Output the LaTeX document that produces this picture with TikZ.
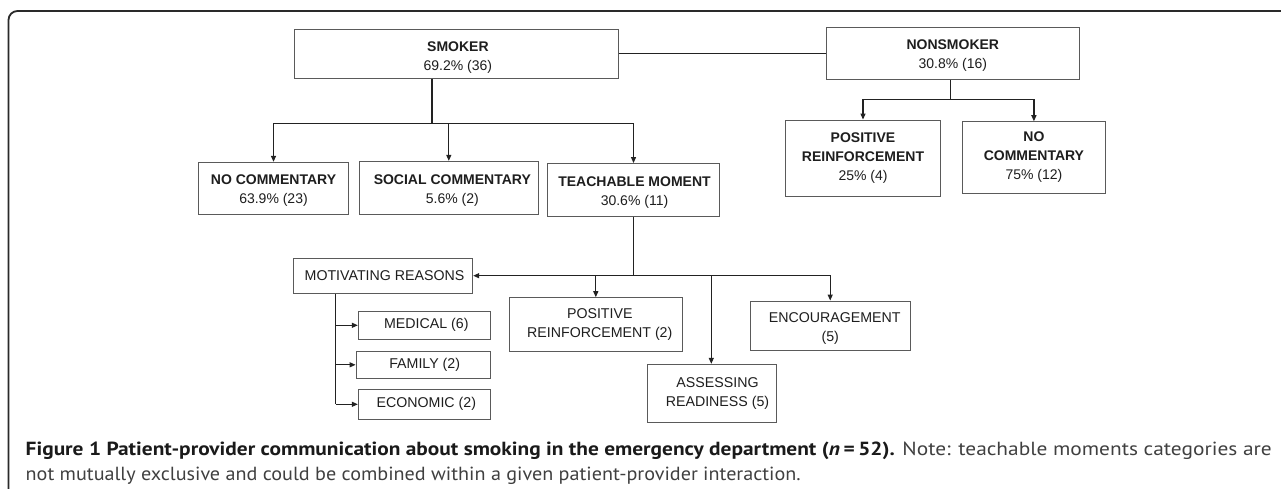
\documentclass[tikz,border=0pt]{standalone}
\usepackage{fontspec}
\usepackage{graphicx}
\setmainfont{Liberation Sans}
\newfontfamily\capfont{PT Sans}
\usetikzlibrary{arrows.meta}
\definecolor{boxgray}{HTML}{5A5A5A}
\definecolor{linec}{HTML}{222222}
\definecolor{txt}{HTML}{1E1E1E}
\definecolor{capbold}{HTML}{1A1A1A}
\definecolor{capreg}{HTML}{404040}
\definecolor{framec}{HTML}{2A2A2A}
\newcommand\tstrut[1]{\rule{0pt}{#1}}
\tikzset{
  topbox/.style={draw=boxgray, line width=0.9pt, inner sep=0pt, align=center, text=txt,
    font=\fontsize{14}{19}\selectfont},
  lowbox/.style={draw=boxgray, line width=0.9pt, inner sep=0pt, align=center, text=txt,
    font=\fontsize{14.2}{19.3}\selectfont},
  conn/.style={draw=linec, line width=1.2pt},
  arr/.style={conn, -{Triangle[length=6pt,width=5pt]}},
}
\begin{document}
\begin{tikzpicture}[x=1pt,y=-1pt]
\useasboundingbox (0,0) rectangle (1281,489);
\fill[white] (0,0) rectangle (1281,489);
% frame
\draw[line width=1.8pt, draw=framec, rounded corners=9pt] (1290,11) -- (8.5,11) -- (8.5,500);

% top level
\node[topbox, minimum width=323.3pt, minimum height=49pt] (smoker) at (456.4,53.8)
  {\tstrut{18pt}\hspace*{3pt}\textbf{SMOKER}\\\hspace*{3pt}69.2\% (36)};
\node[topbox, minimum width=253.5pt, minimum height=52pt] (nonsmoker) at (952.8,53.3)
  {\tstrut{14pt}\textbf{NONSMOKER}\\30.8\% (16)};

% smoker children
\node[topbox, minimum width=150.2pt, minimum height=52pt] (nocom) at (273.5,188.3)
  {\tstrut{15pt}\textbf{NO COMMENTARY}\\63.9\% (23)};
\node[topbox, minimum width=179.2pt, minimum height=53pt] (social) at (448.8,187.8)
  {\tstrut{15pt}\hspace*{7pt}\textbf{SOCIAL COMMENTARY}\\\hspace*{7pt}5.6\% (2)};
\node[topbox, minimum width=172.3pt, minimum height=53pt] (teach) at (633.5,190)
  {\tstrut{15pt}\hspace*{2pt}\textbf{TEACHABLE MOMENT}\\\hspace*{2pt}30.6\% (11)};

% nonsmoker children
\node[topbox, minimum width=155pt, minimum height=76pt] (posr) at (863,158)
  {\textbf{POSITIVE}\\\textbf{REINFORCEMENT}\\25\% (4)};
\node[topbox, minimum width=142.7pt, minimum height=71.6pt] (nocomb) at (1033.9,157.5)
  {\textbf{NO}\\\textbf{COMMENTARY}\\75\% (12)};

% teachable moment children
\node[lowbox, minimum width=179.4pt, minimum height=35.3pt] (motiv) at (383,275.7)
  {\hspace*{3pt}MOTIVATING REASONS};
\node[lowbox, minimum width=173pt, minimum height=53.3pt] (posrb) at (595.8,324.3)
  {\hspace*{8pt}POSITIVE\\\hspace*{8pt}REINFORCEMENT (2)};
\node[lowbox, minimum width=129.4pt, minimum height=58.4pt] (assess) at (712,393.5)
  {\hspace*{11pt}ASSESSING\\\hspace*{11pt}READINESS (5)};
\node[lowbox, minimum width=160.3pt, minimum height=49pt] (encour) at (830.2,325.5)
  {\tstrut{16pt}\hspace*{9pt}ENCOURAGEMENT\\(5)};

% motivating reasons children
\node[lowbox, minimum width=132pt, minimum height=28pt] (medical) at (424.3,325.3)
  {\hspace*{4pt}MEDICAL (6)};
\node[lowbox, minimum width=134.3pt, minimum height=27pt] (family) at (423.2,364.8)
  {\hspace*{3pt}FAMILY (2)};
\node[lowbox, minimum width=132pt, minimum height=30pt] (economic) at (424.3,404.3)
  {\hspace*{4pt}ECONOMIC (2)};

% connectors: smoker
\draw[conn] (smoker.east) -- (smoker.east -| nonsmoker.west);
\coordinate (sj) at (431.9,123.5);
\draw[conn] (sj |- smoker.south) -- (sj);
\draw[arr] (sj) -| (nocom.north);
\draw[arr] (sj) -| (social.north);
\draw[arr] (sj) -| (teach.north);

% connectors: nonsmoker
\coordinate (nj) at (950.7,99.3);
\draw[conn] (nj |- nonsmoker.south) -- (nj);
\draw[arr] (nj) -| (posr.north);
\draw[arr] (nj) -| (nocomb.north);

% connectors: teachable moment
\coordinate (tj) at (633.7,275.7);
\coordinate (ta) at (711.3,275.7);
\draw[conn] (tj |- teach.south) -- (tj);
\draw[arr] (tj) -- (motiv.east);
\draw[arr] (tj) -| (posrb.north);
\draw[arr] (tj) -- (ta) -- (ta |- assess.north);
\draw[arr] (tj) -| (encour.north);

% connectors: motivating reasons
\coordinate (mj) at (335.7,404.3);
\draw[conn] (mj |- motiv.south) -- (mj);
\draw[arr] (mj |- medical.west) -- (medical.west);
\draw[arr] (mj |- family.west) -- (family.west);
\draw[arr] (mj) -- (economic.west);

% caption
\node[anchor=base west, inner sep=0pt, font=\capfont\fontsize{19}{22}\selectfont] (cap1) at (25.5,455)
  {\resizebox{1246pt}{\height}{\textcolor{capbold}{\textbf{Figure 1 Patient-provider communication about smoking in the emergency department (\textit{n}\,=\,52).}} \textcolor{capreg}{Note: teachable moments categories are}}};
\node[anchor=base west, inner sep=0pt, font=\capfont\fontsize{19}{22}\selectfont, text=capreg] (cap2) at (25.5,480)
  {\resizebox{775pt}{\height}{not mutually exclusive and could be combined within a given patient-provider interaction.}};
\end{tikzpicture}
\end{document}
